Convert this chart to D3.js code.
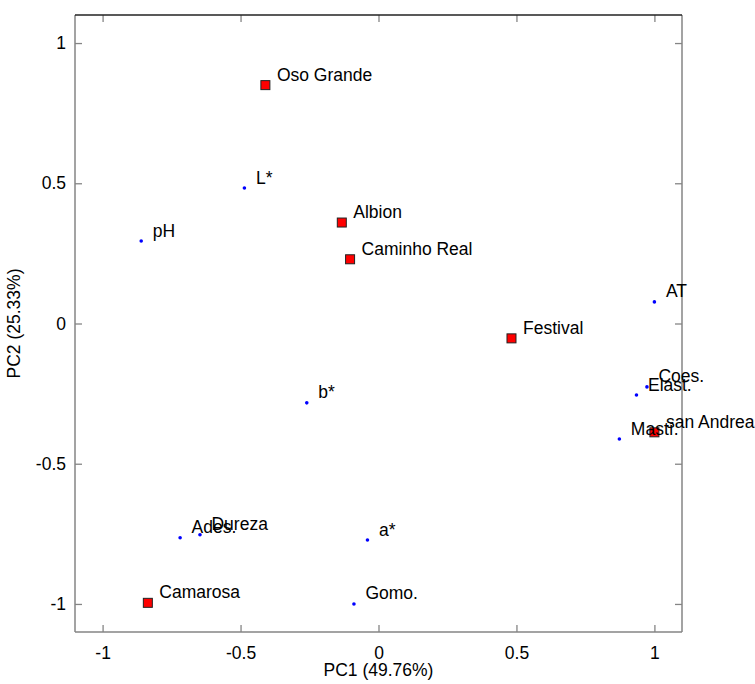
<!DOCTYPE html>
<html>
<head>
<meta charset="utf-8">
<script src="https://cdn.jsdelivr.net/npm/d3@7"></script>
<style>
  html, body { margin: 0; padding: 0; background: #fff; }
  svg { display: block; }
  text { font-family: Arial, "Liberation Sans", sans-serif; fill: #000; }
</style>
</head>
<body>
<div id="chart"></div>
<script>
// Samples (red squares)
const sampleNames = ["Oso Grande", "Albion", "Caminho Real", "Festival", "san Andreas", "Camarosa"];
const samplePC1 = [-0.410, -0.133, -0.103, 0.482, 1.000, -0.836];
const samplePC2 = [0.850, 0.360, 0.229, -0.053, -0.388, -0.996];

// Variables (blue dots)
const varNames = ["L*", "pH", "AT", "Coes.", "Elast.", "Mastí.", "b*", "a*", "Gomo.", "Ades.", "Dureza"];
const varPC1 = [-0.486, -0.860, 1.000, 0.973, 0.935, 0.873, -0.260, -0.040, -0.089, -0.719, -0.647];
const varPC2 = [0.483, 0.294, 0.077, -0.226, -0.255, -0.412, -0.283, -0.772, -1.000, -0.764, -0.753];

const xTicks = [-1, -0.5, 0, 0.5, 1];
const yTicks = [-1, -0.5, 0, 0.5, 1];
const xLabel = "PC1 (49.76%)";
const yLabel = "PC2 (25.33%)";

const W = 755, H = 684;
const m = { left: 75, top: 15, right: 73, bottom: 52 };
const iw = W - m.left - m.right, ih = H - m.top - m.bottom;

const svg = d3.select("#chart").append("svg").attr("width", W).attr("height", H);
const g = svg.append("g").attr("transform", `translate(${m.left},${m.top})`);

const x = d3.scaleLinear().domain([-1.1, 1.1]).range([0, iw]);
const y = d3.scaleLinear().domain([-1.1, 1.1]).range([ih, 0]);

const fmt = d => String(d);
const tickLen = 7;
const grey = "#858585";
const fs = "17.5px";

// Axes (ticks inward, on all sides)
const axB = g.append("g").attr("transform", `translate(0,${ih})`)
  .call(d3.axisBottom(x).tickValues(xTicks).tickFormat(fmt).tickSize(-tickLen).tickPadding(tickLen + 8));
const axL = g.append("g")
  .call(d3.axisLeft(y).tickValues(yTicks).tickFormat(fmt).tickSize(-tickLen).tickPadding(9));
const axT = g.append("g")
  .call(d3.axisTop(x).tickValues(xTicks).tickFormat("").tickSize(-tickLen));
const axR = g.append("g").attr("transform", `translate(${iw},0)`)
  .call(d3.axisRight(y).tickValues(yTicks).tickFormat("").tickSize(-tickLen));

[axB, axL, axT, axR].forEach(a => {
  a.select(".domain").remove();
  a.selectAll(".tick line").attr("stroke", grey).attr("stroke-width", 1.3);
  a.selectAll(".tick text").style("font-size", fs).attr("fill", "#000");
});

// Box
g.append("line").attr("x1", 0).attr("x2", 0).attr("y1", 0).attr("y2", ih).attr("stroke", grey).attr("stroke-width", 1.5);
g.append("line").attr("x1", iw).attr("x2", iw).attr("y1", 0).attr("y2", ih).attr("stroke", grey).attr("stroke-width", 1.5);
g.append("line").attr("x1", 0).attr("x2", iw).attr("y1", ih).attr("y2", ih).attr("stroke", grey).attr("stroke-width", 1.5);
g.append("line").attr("x1", 0).attr("x2", iw).attr("y1", 0).attr("y2", 0).attr("stroke", "#222").attr("stroke-width", 1.5);

// Axis titles
svg.append("text").attr("x", m.left + x(0)).attr("y", 676)
  .attr("text-anchor", "middle").style("font-size", fs).text(xLabel);
svg.append("text").attr("transform", `translate(20,${m.top + y(0)}) rotate(-90)`)
  .attr("text-anchor", "middle").style("font-size", fs).text(yLabel);

// Data
const samples = sampleNames.map((n, i) => ({ n, x: samplePC1[i], y: samplePC2[i] }));
const vars = varNames.map((n, i) => ({ n, x: varPC1[i], y: varPC2[i] }));

const sq = 9;
g.selectAll("rect.sample").data(samples).enter().append("rect")
  .attr("class", "sample")
  .attr("x", d => x(d.x) - sq / 2).attr("y", d => y(d.y) - sq / 2)
  .attr("width", sq).attr("height", sq)
  .attr("fill", "#ff0000").attr("stroke", "#222").attr("stroke-width", 1);

g.selectAll("circle.var").data(vars).enter().append("circle")
  .attr("class", "var")
  .attr("cx", d => x(d.x)).attr("cy", d => y(d.y)).attr("r", 1.8)
  .attr("fill", "#0000ff");

const labels = vars.concat(samples);
g.selectAll("text.lbl").data(labels).enter().append("text")
  .attr("class", "lbl")
  .attr("x", d => x(d.x) + 11.5).attr("y", d => y(d.y) - 4.5)
  .style("font-size", fs).text(d => d.n);
</script>
</body>
</html>
